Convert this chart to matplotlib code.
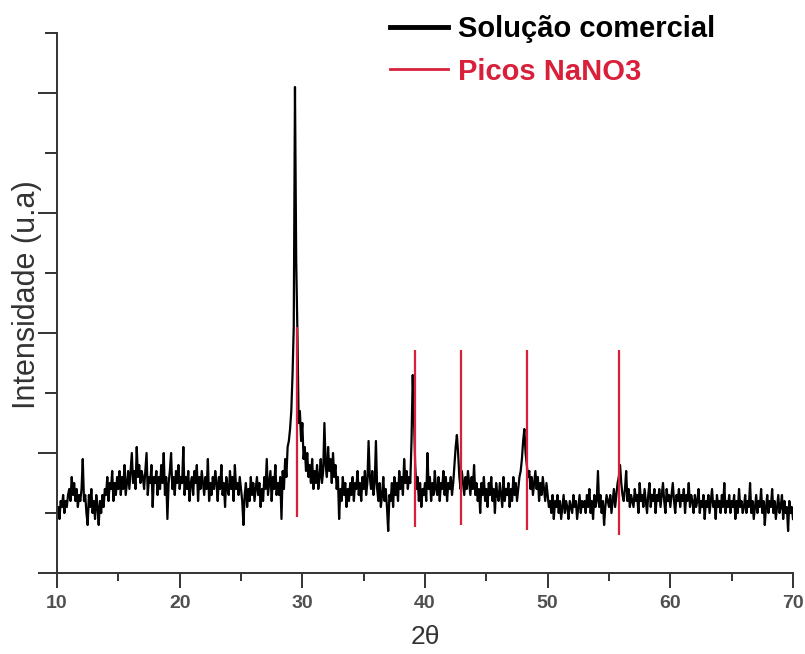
import matplotlib
matplotlib.use("Agg")
import matplotlib.pyplot as plt
import numpy as np
from matplotlib.lines import Line2D

plt.rcParams['font.family'] = ['Liberation Sans', 'DejaVu Sans']

# 2theta scan from 10 to 70 deg, step 0.1 (one row per degree)
two_theta = np.linspace(10, 70, 601)
intensity = [
    10, 11, 9, 12, 11, 13, 10, 12, 11, 13,
    14, 12, 16, 13, 15, 12, 14, 11, 13, 12,
    14, 19, 12, 13, 10, 8, 13, 11, 14, 10,
    12, 9, 13, 11, 8, 12, 10, 13, 11, 14,
    13, 16, 12, 15, 14, 17, 12, 15, 13, 16,
    14, 17, 13, 16, 14, 18, 13, 15, 17, 14,
    17, 20, 15, 17, 14, 21, 16, 18, 15, 17,
    16, 14, 17, 20, 13, 16, 15, 18, 11, 16,
    15, 17, 13, 16, 14, 18, 15, 20, 13, 16,
    9, 15, 17, 20, 14, 16, 13, 17, 15, 18,
    14, 16, 15, 21, 13, 16, 14, 17, 12, 15,
    16, 13, 17, 15, 18, 12, 16, 14, 17, 15,
    13, 16, 14, 19, 12, 15, 13, 16, 14, 17,
    15, 12, 16, 14, 18, 13, 15, 11, 16, 14,
    13, 17, 14, 16, 12, 18, 14, 15, 13, 16,
    14, 12, 8, 13, 15, 11, 14, 12, 16, 13,
    15, 12, 14, 16, 13, 15, 11, 14, 12, 16,
    14, 19, 13, 15, 17, 12, 16, 14, 18, 13,
    15, 13, 16, 9, 17, 14, 19, 16, 21, 22,
    24, 27, 33, 41, 81, 52, 40, 25, 27, 22,
    25, 19, 21, 17, 20, 16, 18, 15, 19, 14,
    17, 15, 18, 14, 16, 19, 15, 17, 25, 18,
    16, 21, 17, 19, 15, 20, 16, 18, 14, 16,
    9, 14, 12, 16, 13, 15, 11, 14, 12, 15,
    13, 16, 12, 15, 14, 17, 13, 15, 12, 16,
    14, 17, 13, 15, 22, 16, 14, 17, 13, 15,
    22, 14, 12, 15, 11, 13, 16, 12, 14, 11,
    7, 13, 12, 15, 11, 16, 13, 15, 12, 17,
    14, 16, 13, 19, 15, 17, 14, 16, 15, 22,
    33, 26, 18, 14, 16, 12, 15, 11, 14, 13,
    15, 12, 20, 14, 16, 12, 15, 13, 17, 14,
    13, 16, 12, 15, 14, 17, 13, 16, 12, 15,
    14, 16, 13, 15, 18, 21, 23, 20, 16, 14,
    17, 15, 13, 16, 14, 17, 15, 13, 16, 14,
    18, 13, 15, 12, 14, 10, 15, 13, 16, 12,
    14, 11, 15, 13, 16, 12, 14, 10, 15, 13,
    12, 15, 13, 11, 16, 12, 14, 13, 15, 11,
    14, 12, 16, 13, 15, 12, 14, 16, 17, 19,
    22, 24, 20, 18, 16, 17, 14, 16, 13, 15,
    17, 14, 16, 12, 15, 13, 16, 14, 12, 15,
    13, 11, 12, 10, 13, 9, 12, 11, 13, 10,
    12, 9, 11, 13, 10, 12, 11, 9, 12, 11,
    10, 13, 11, 12, 9, 11, 13, 10, 12, 11,
    12, 10, 13, 11, 14, 10, 12, 9, 13, 11,
    12, 17, 11, 13, 10, 12, 8, 11, 13, 12,
    11, 13, 10, 12, 14, 11, 13, 15, 16, 18,
    15, 13, 12, 14, 17, 12, 14, 11, 13, 12,
    11, 14, 12, 13, 10, 15, 12, 13, 11, 14,
    12, 10, 13, 15, 11, 13, 12, 14, 10, 13,
    12, 14, 11, 13, 15, 12, 10, 14, 12, 13,
    11, 13, 15, 12, 10, 13, 12, 14, 11, 13,
    12, 14, 10, 13, 12, 15, 11, 13, 12, 10,
    13, 11, 12, 14, 10, 12, 11, 13, 9, 12,
    11, 13, 10, 12, 14, 11, 12, 9, 13, 11,
    12, 10, 13, 11, 15, 10, 12, 11, 13, 10,
    12, 11, 13, 9, 12, 10, 14, 11, 12, 10,
    11, 13, 10, 12, 11, 15, 10, 12, 9, 11,
    13, 10, 12, 11, 14, 10, 12, 8, 11, 13,
    10, 12, 11, 14, 10, 12, 9, 11, 13, 10,
    11, 13, 9, 12, 10, 11, 7, 12, 10, 11,
    9,
]

# NaNO3 reference peaks: position, bottom and top of each marker
peak_pos = [29.56, 39.18, 42.93, 48.3, 55.8]
peak_low = [9.3, 7.7, 8.0, 7.2, 6.3]
peak_high = [41, 37.2, 37.2, 37.2, 37.2]

red = '#d8203a'

fig = plt.figure(figsize=(8.05, 6.54), dpi=100)
ax = fig.add_axes([57/805, 81/654, 736/805, 540/654])

ax.plot(two_theta, intensity, color='black', lw=1.6)
ax.vlines(peak_pos, peak_low, peak_high, color=red, lw=1.6)

ax.set_xlim(10, 70)
ax.set_ylim(0, 90)

ax.set_xticks(np.arange(10, 71, 10))
ax.set_xticks(np.arange(15, 70, 10), minor=True)
ax.set_yticks(np.arange(0, 91, 20))
ax.set_yticks(np.arange(10, 91, 20), minor=True)
ax.set_yticklabels([])

for s in ['top', 'right']:
    ax.spines[s].set_visible(False)
for s in ['left', 'bottom']:
    ax.spines[s].set_color('#333333')
    ax.spines[s].set_linewidth(1.4)

ax.tick_params(axis='x', which='major', direction='out', length=11, width=1.4,
               color='#333333', labelsize=14, labelcolor='#505050', pad=5)
ax.tick_params(axis='x', which='minor', direction='out', length=6, width=1.4,
               color='#333333')
ax.tick_params(axis='y', which='major', direction='out', length=14, width=1.4,
               color='#333333')
ax.tick_params(axis='y', which='minor', direction='out', length=9, width=1.4,
               color='#333333')
for lab in ax.get_xticklabels():
    lab.set_fontweight('bold')

ax.set_xlabel('2θ', fontsize=19, color='#333333', labelpad=9)
fig.text(27/805, 1 - 295/654, 'Intensidade (u.a)', rotation=90,
         ha='center', va='center', fontsize=22, color='#333333')

handles = [Line2D([], [], color='black', lw=3.5),
           Line2D([], [], color=red, lw=2)]
leg = fig.legend(handles, ['Solução comercial', 'Picos NaNO3'],
                 loc='upper left', bbox_to_anchor=(390/805, 1 - 15/654),
                 frameon=False, borderpad=0, borderaxespad=0,
                 handlelength=2.0, handletextpad=0.33, labelspacing=0.5,
                 prop={'size': 21, 'weight': 'bold'}, labelcolor='linecolor')

fig.savefig('out.png', dpi=100)
